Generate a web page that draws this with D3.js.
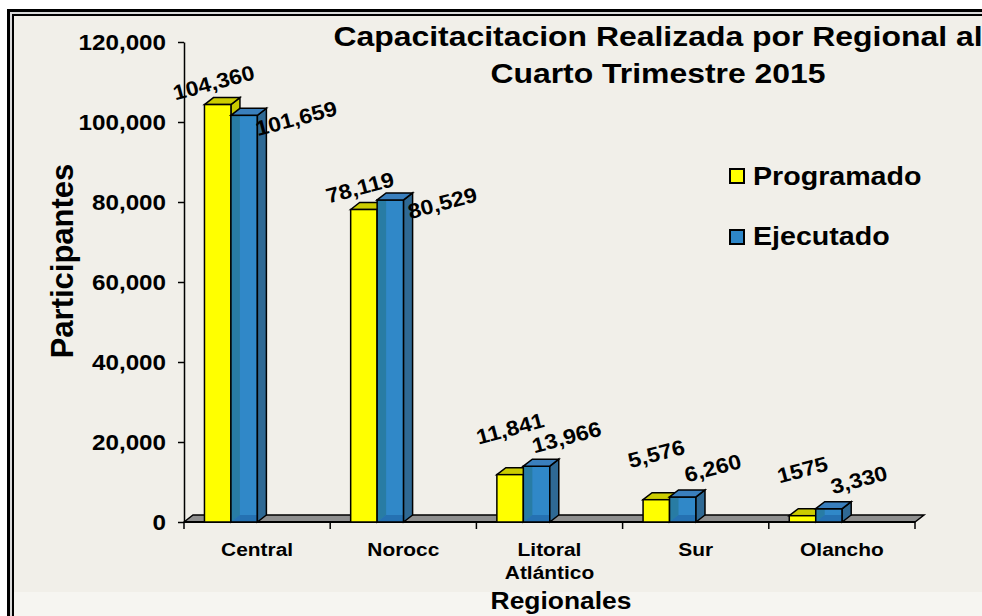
<!DOCTYPE html>
<html>
<head>
<meta charset="utf-8">
<style>
  body { margin: 0; background: #fff; }
  text { font-family: "Liberation Sans", Arial, sans-serif; font-weight: bold; fill: #000; }
</style>
</head>
<body>
<svg id="chart"></svg>
<script src="https://d3js.org/d3.v7.min.js"></script>
<script>

var regions = ["Central", "Norocc", "Litoral Atlántico", "Sur", "Olancho"];
var seriesNames = ["Programado", "Ejecutado"];
var programado = [104360, 78119, 11841, 5576, 1575];
var ejecutado = [101659, 80529, 13966, 6260, 3330];
// labels as written on the chart (Olancho programado has no comma)
var programadoLabels = ["104,360", "78,119", "11,841", "5,576", "1575"];
var ejecutadoLabels = ["101,659", "80,529", "13,966", "6,260", "3,330"];
var yTicks = [0, 20000, 40000, 60000, 80000, 100000, 120000];
var titleLines = ["Capacitacitacion Realizada por Regional al", "Cuarto Trimestre 2015"];

var width = 982, height = 616;
var stretch = 1.1; // text in the picture is a little wide

var svg = d3.select("#chart")
  .attr("width", width)
  .attr("height", height);

// frame: double black line, beige chart area
svg.append("rect").attr("width", width).attr("height", height).attr("fill", "#fff");
svg.append("rect")
  .attr("x", 8.5).attr("y", 10.5).attr("width", 1000).attr("height", 700)
  .attr("fill", "#d9d9d9").attr("stroke", "#000").attr("stroke-width", 3);
svg.append("rect")
  .attr("x", 13).attr("y", 15).attr("width", 1000).attr("height", 700)
  .attr("fill", "#f1efe9").attr("stroke", "#000").attr("stroke-width", 2);
svg.append("rect")
  .attr("x", 14).attr("y", 592).attr("width", 1000).attr("height", 40)
  .attr("fill", "#f6f5f1");

function wideText(g, tx, ty, str, size, anchor, sx) {
  return g.append("text")
    .attr("transform", "translate(" + tx + "," + ty + ") scale(" + (sx || stretch) + ",1)")
    .attr("text-anchor", anchor || "middle")
    .style("font-size", size + "px")
    .text(str);
}

// title
titleLines.forEach(function(t, i) {
  wideText(svg, 658, 46 + i * 37, t, 28, "middle", 1.14);
});

var x = d3.scaleBand().domain(regions).range([184, 915]);
var y = d3.scaleLinear().domain([0, 120000]).range([522, 42]);
var bw = x.bandwidth();
var sub = d3.scaleBand().domain(seriesNames).range([bw * 0.14, bw * 0.14 + bw * 0.362]);

var dx = 9, dy = -7; // 3D depth

function poly(pts) {
  return "M" + pts.map(function(p) { return p[0] + "," + p[1]; }).join("L") + "Z";
}

// floor
var x0 = x.range()[0], x1 = x.range()[1], base = y(0);
svg.append("path")
  .attr("d", poly([[x0, base], [x0 + dx, base + dy], [x1 + dx, base + dy], [x1, base]]))
  .attr("fill", "#8f8f8f").attr("stroke", "#000").attr("stroke-width", 1.5);
svg.append("line")
  .attr("x1", x0).attr("x2", x1).attr("y1", base).attr("y2", base)
  .attr("stroke", "#000").attr("stroke-width", 2);

// y axis
var yAxis = d3.axisLeft(y)
  .tickValues(yTicks)
  .tickFormat(d3.format(","))
  .tickSize(6)
  .tickSizeOuter(0)
  .tickPadding(12);
var yg = svg.append("g").attr("transform", "translate(" + x0 + ",0)").call(yAxis);
yg.select(".domain").attr("stroke", "#000").attr("stroke-width", 1.5);
yg.selectAll(".tick line").attr("stroke", "#000").attr("stroke-width", 1.5);
yg.selectAll(".tick text")
  .attr("transform", "scale(" + stretch + ",1)")
  .attr("x", -18 / stretch)
  .style("font-size", "22px")
  .style("font-family", "'Liberation Sans', Arial, sans-serif");

// x ticks at band edges
var edges = regions.map(function(d) { return x(d); }).concat([x1]);
svg.selectAll(".xtick").data(edges).enter().append("line")
  .attr("x1", function(d) { return d; }).attr("x2", function(d) { return d; })
  .attr("y1", base).attr("y2", base + 7)
  .attr("stroke", "#000").attr("stroke-width", 1.5);

// category labels
regions.forEach(function(r) {
  r.split(" ").forEach(function(line, j) {
    wideText(svg, x(r) + bw / 2, 556 + j * 23, line, 19);
  });
});

// axis titles
wideText(svg, 561, 609, "Regionales", 24);
svg.append("text")
  .attr("transform", "translate(73,261) rotate(-90)")
  .attr("text-anchor", "middle")
  .style("font-size", "31px")
  .text("Participantes");

// bars
var bars = svg.append("g");
var barW = sub.bandwidth();

function yellowBar(bx, top) {
  bars.append("path")
    .attr("d", poly([[bx + barW, top], [bx + barW + dx, top + dy], [bx + barW + dx, base + dy], [bx + barW, base]]))
    .attr("fill", "#c9c900").attr("stroke", "#000").attr("stroke-width", 1.5);
  bars.append("path")
    .attr("d", poly([[bx, top], [bx + dx, top + dy], [bx + barW + dx, top + dy], [bx + barW, top]]))
    .attr("fill", "#cccc00").attr("stroke", "#000").attr("stroke-width", 1.5);
  bars.append("rect")
    .attr("x", bx).attr("y", top).attr("width", barW).attr("height", base - top)
    .attr("fill", "#ffff00").attr("stroke", "#000").attr("stroke-width", 1.5);
}

function blueBar(bx, top) {
  bars.append("rect")
    .attr("x", bx).attr("y", top).attr("width", barW).attr("height", base - top)
    .attr("fill", "#3088c8");
  // back faces seen through the front
  bars.append("path")
    .attr("d", poly([[bx, top], [bx + dx, top + dy], [bx + dx, base + dy], [bx, base]]))
    .attr("fill", "#1e6e78").attr("opacity", 0.45);
  bars.append("path")
    .attr("d", poly([[bx, base], [bx + dx, base + dy], [bx + barW + dx, base + dy], [bx + barW, base]]))
    .attr("fill", "#1a5a9c").attr("opacity", 0.5);
  bars.append("rect")
    .attr("x", bx).attr("y", top).attr("width", barW).attr("height", base - top)
    .attr("fill", "none").attr("stroke", "#000").attr("stroke-width", 1.5);
  bars.append("path")
    .attr("d", poly([[bx + barW, top], [bx + barW + dx, top + dy], [bx + barW + dx, base + dy], [bx + barW, base]]))
    .attr("fill", "#2f6994").attr("stroke", "#000").attr("stroke-width", 1.5);
  bars.append("path")
    .attr("d", poly([[bx, top], [bx + dx, top + dy], [bx + barW + dx, top + dy], [bx + barW, top]]))
    .attr("fill", "#3a7fbd").attr("stroke", "#000").attr("stroke-width", 1.5);
}

regions.forEach(function(r, i) {
  yellowBar(x(r) + sub("Programado"), y(programado[i]));
  blueBar(x(r) + sub("Ejecutado"), y(ejecutado[i]));
});

// value labels, tilted like the original
var labels = svg.append("g");
regions.forEach(function(r, i) {
  var tall = programado[i] > 50000;
  var cx = x(r) + sub("Programado") + barW / 2 + (tall ? -4 : 0);
  var cy = y(programado[i]) - (tall ? 22 : 46);
  labels.append("text")
    .attr("transform", "translate(" + cx + "," + cy + ") rotate(-15) scale(" + stretch + ",1)")
    .attr("text-anchor", "middle").attr("dy", "0.35em")
    .style("font-size", "21px")
    .text(programadoLabels[i]);

  var ex = x(r) + sub("Ejecutado") + barW / 2 + (tall ? 52 : 30);
  var ey = y(ejecutado[i]) + (tall ? 3 : -29);
  labels.append("text")
    .attr("transform", "translate(" + ex + "," + ey + ") rotate(-15) scale(" + stretch + ",1)")
    .attr("text-anchor", "middle").attr("dy", "0.35em")
    .style("font-size", "21px")
    .text(ejecutadoLabels[i]);
});

// legend
var legendColors = ["#ffff00", "#2e86c8"];
seriesNames.forEach(function(s, i) {
  svg.append("rect")
    .attr("x", 730).attr("y", 169 + i * 61).attr("width", 14).attr("height", 14)
    .attr("fill", legendColors[i]).attr("stroke", "#000").attr("stroke-width", 2);
  wideText(svg, 753, 185 + i * 60, s, 26, "start");
});

</script>
</body>
</html>
